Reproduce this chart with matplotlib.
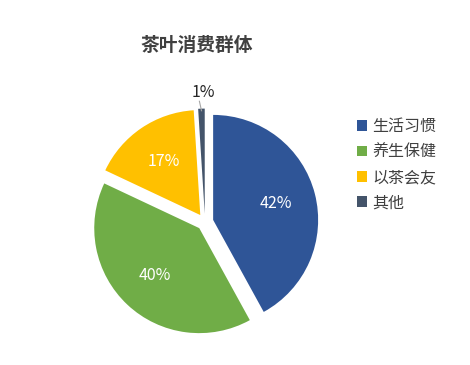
import numpy as np
import matplotlib.pyplot as plt
from matplotlib.patches import Patch

plt.rcParams['font.family'] = ['Noto Sans CJK SC', 'DejaVu Sans']

categories = ["生活习惯", "养生保健", "以茶会友", "其他"]
values = [42, 40, 17, 1]
colors = ["#2F5597", "#70AD47", "#FFC000", "#44546A"]
title = "茶叶消费群体"

R_PX = 105
fig = plt.figure(figsize=(4.7, 3.65), dpi=100)
half = 130
cx, cy = 205, 222
ax = fig.add_axes([(cx - half) / 470, (365 - cy - half) / 365, 2 * half / 470, 2 * half / 365])
lim = half / R_PX

wedges, texts = ax.pie(values, colors=colors, startangle=90, counterclock=False,
                       explode=[0.08] * 4, radius=1.0, frame=True,
                       wedgeprops=dict(linewidth=0))
ax.set_aspect("equal")
ax.axis("off")
ax.set_xlim(-lim, lim)
ax.set_ylim(-lim, lim)

# étiquettes de pourcentage
total = sum(values)
start = 90.0
for v, w in zip(values, wedges):
    span = 360 * v / total
    mid = np.deg2rad(start - span / 2)
    start -= span
    d = np.array([np.cos(mid), np.sin(mid)])
    off = 0.08 * d
    pct = f"{v / total * 100:.0f}%"
    if v / total < 0.05:
        p0 = off + 0.98 * d
        ax.plot([p0[0], p0[0] - 0.02], [p0[1], 1.15], color="#A6A6A6", lw=0.8)
        ax.text(p0[0] + 0.02, 1.23, pct, ha="center", va="center", fontsize=11.5, color="#262626")
    else:
        p = off + 0.62 * d
        ax.text(p[0], p[1], pct, ha="center", va="center", fontsize=11.5, color="white")

fig.text(197 / 470, 1 - 45 / 365, title, ha="center", va="center", fontsize=13.5,
         fontweight="bold", color="#404040")

handles = [Patch(facecolor=c, edgecolor="none") for c in colors]
fig.legend(handles, categories, loc="upper left", bbox_to_anchor=(357 / 470, 1 - 118 / 365),
           frameon=False, fontsize=11.5, labelcolor="#404040", handlelength=0.65,
           handleheight=0.65, handletextpad=0.3, labelspacing=0.53, borderpad=0,
           borderaxespad=0)

fig.savefig("out.png", dpi=100, facecolor="white")
